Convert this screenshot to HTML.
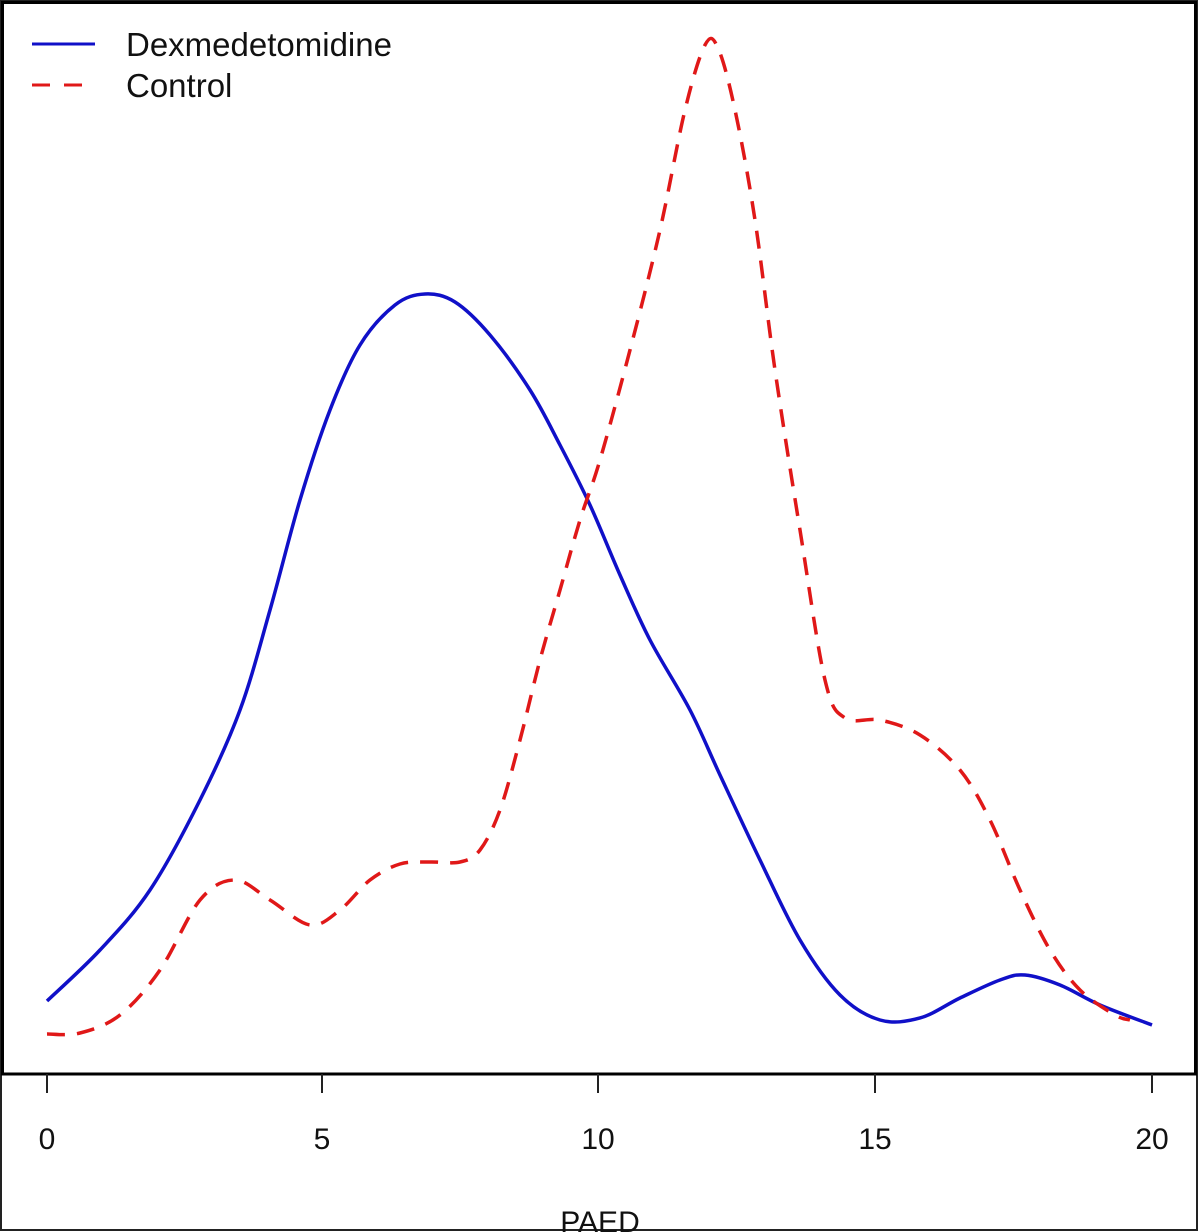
<!DOCTYPE html>
<html><head><style>body{margin:0;background:#fff}svg{display:block}</style></head>
<body>
<svg id="s" width="1200" height="1232" viewBox="0 0 1200 1232" xmlns="http://www.w3.org/2000/svg" font-family="Liberation Sans, sans-serif">
<rect x="0" y="0" width="1200" height="1232" fill="#fff"/>
<rect x="1" y="1" width="1196" height="1229" fill="none" stroke="#222" stroke-width="2"/>
<rect x="2.5" y="2.5" width="1193" height="1071.5" fill="none" stroke="#000" stroke-width="3"/>
<g stroke="#222" stroke-width="2">
<line x1="47" y1="1074" x2="47" y2="1093"/><line x1="322" y1="1074" x2="322" y2="1093"/><line x1="598" y1="1074" x2="598" y2="1093"/><line x1="875" y1="1074" x2="875" y2="1093"/><line x1="1152" y1="1074" x2="1152" y2="1093"/>
</g>
<g font-size="30" text-anchor="middle" fill="#111">
<text x="47" y="1149">0</text><text x="322" y="1149">5</text><text x="598" y="1149">10</text><text x="875" y="1149">15</text><text x="1152" y="1149">20</text>
<text x="600" y="1232">PAED</text>
</g>
<path id="b" fill="none" stroke="#1010c8" stroke-width="3.5" stroke-linejoin="round"/>
<path id="r" fill="none" stroke="#e01818" stroke-width="3.5" stroke-dasharray="18,12" stroke-linejoin="round"/>
<line x1="32" y1="44" x2="95" y2="44" stroke="#1010c8" stroke-width="3"/>
<line x1="32" y1="85" x2="95" y2="85" stroke="#e01818" stroke-width="3" stroke-dasharray="18,14"/>
<g font-size="33" fill="#111"><text x="126" y="56">Dexmedetomidine</text><text x="126" y="97">Control</text></g>
</svg>
<script>
function cr(p){var d="M"+p[0][0]+","+p[0][1];for(var i=0;i<p.length-1;i++){var a=p[i-1]||p[i],b=p[i],c=p[i+1],e=p[i+2]||c;d+=" C"+(b[0]+(c[0]-a[0])/6)+","+(b[1]+(c[1]-a[1])/6)+" "+(c[0]-(e[0]-b[0])/6)+","+(c[1]-(e[1]-b[1])/6)+" "+c[0]+","+c[1];}return d;}
var B=[[47,1001],[100,950],[150,890],[200,800],[240,710],[270,610],[300,500],[330,410],[360,345],[395,305],[425,294],[455,302],[490,335],[530,390],[560,445],[590,505],[620,575],[650,640],[690,710],[720,775],[760,860],[800,940],[840,995],[880,1020],[920,1018],[960,998],[1000,980],[1025,975],[1060,985],[1100,1005],[1152,1025]];
var R=[[47,1034],[80,1033],[120,1015],[160,970],[200,900],[235,880],[270,900],[310,925],[340,910],[370,880],[400,864],[430,862],[460,862],[480,850],[500,810],[520,740],[540,660],[560,590],[580,520],[600,460],[630,350],[660,230],[685,110],[705,45],[718,48],[735,110],[755,220],[775,370],[800,530],[825,680],[845,718],[880,720],[920,735],[960,770],[990,820],[1020,890],[1050,950],[1080,990],[1115,1015],[1130,1020]];
document.getElementById("b").setAttribute("d",cr(B));
document.getElementById("r").setAttribute("d",cr(R));
</script>
</body></html>
